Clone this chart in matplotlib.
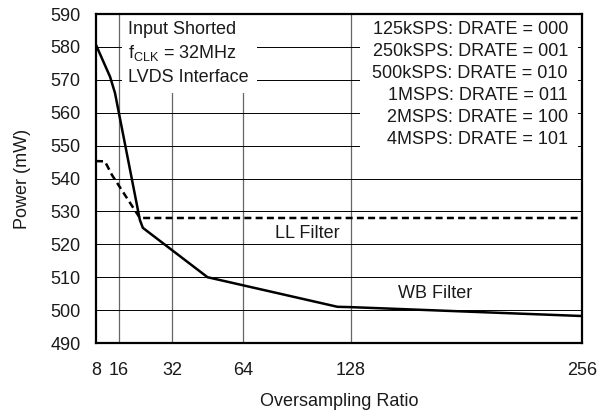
import matplotlib
matplotlib.use("Agg")
import matplotlib.pyplot as plt
from matplotlib.patches import Rectangle
import numpy as np

plt.rcParams['font.family'] = ['Liberation Sans', 'DejaVu Sans']

# oversampling ratio ticks and where they sit along the (non-uniform) axis
osr_ticks = [8, 16, 32, 64, 128, 256]
osr_pos = [0, 23, 76, 147, 255, 486]

power_ticks = list(range(490, 591, 10))

# WB filter curve
wb_osr = [8, 12.9, 14.6, 22.3, 23.2, 48, 120, 128, 256]
wb_power = [580.6, 570.9, 566.0, 527.4, 525.0, 510.0, 501.0, 500.9, 498.2]

# LL filter curve
ll_osr = [8, 11.1, 13.6, 22.3, 256]
ll_power = [545.3, 545.2, 541.0, 528.0, 528.0]

rate_lines = ["125kSPS: DRATE = 000", "250kSPS: DRATE = 001", "500kSPS: DRATE = 010",
              "1MSPS: DRATE = 011", "2MSPS: DRATE = 100", "4MSPS: DRATE = 101"]
cond_lines = ["Input Shorted", r"f$_{\mathregular{CLK}}$ = 32MHz", "LVDS Interface"]

FS = 13
TXT = '#1a1a1a'


def fwd(x):
    return np.interp(x, osr_ticks, osr_pos)


def inv(p):
    return np.interp(p, osr_pos, osr_ticks)


fig = plt.figure(figsize=(6.12, 4.12), dpi=100)
ax = fig.add_axes([96 / 612, 1 - 343 / 412, 486 / 612, 329 / 412])
ax.set_xscale('function', functions=(fwd, inv))
ax.set_xlim(8, 256)
ax.set_ylim(490, 590)
ax.set_xticks(osr_ticks)
ax.set_xticklabels([str(t) for t in osr_ticks])
ax.set_yticks(power_ticks)
ax.xaxis.set_minor_locator(plt.NullLocator())
ax.tick_params(axis='both', length=0, labelsize=FS, labelcolor=TXT)
ax.tick_params(axis='x', pad=14)
ax.tick_params(axis='y', pad=11)

for t in osr_ticks[1:-1]:
    ax.axvline(t, color='#666666', lw=0.9, zorder=1)
for p in power_ticks[1:-1]:
    ax.axhline(p, color='black', lw=0.7, zorder=1)

for s in ax.spines.values():
    s.set_linewidth(1.6)

# white boxes behind the annotations
ax.add_patch(Rectangle((0.053, 0.76), 0.278, 0.24, transform=ax.transAxes,
                       facecolor='white', edgecolor='none', zorder=2))
ax.add_patch(Rectangle((0.543, 0.556), 0.449, 0.444, transform=ax.transAxes,
                       facecolor='white', edgecolor='none', zorder=2))

ax.plot(wb_osr, wb_power, color='black', lw=1.8, zorder=3)
ax.plot(ll_osr, ll_power, color='black', lw=1.8, dashes=(2.8, 1.7), zorder=3)

cond_y = [30, 53, 78]
for txt, yy in zip(cond_lines, cond_y):
    ax.text((128 - 96) / 486, (343 - yy) / 329, txt, transform=ax.transAxes,
            ha='left', va='center', fontsize=FS, color=TXT, zorder=4)

rate_y = [30, 51.7, 73.3, 95, 117, 139]
for txt, yy in zip(rate_lines, rate_y):
    ax.text((568 - 96) / 486, (343 - yy) / 329, txt, transform=ax.transAxes,
            ha='right', va='center', fontsize=FS, color=TXT, zorder=4)

ax.text(102, 523.3, "LL Filter", ha='center', va='center', fontsize=FS, color=TXT, zorder=4)
ax.text(174.5, 504.9, "WB Filter", ha='center', va='center', fontsize=FS, color=TXT, zorder=4)

ax.set_xlabel("Oversampling Ratio", fontsize=FS, color=TXT, labelpad=10)
ax.set_ylabel("Power (mW)", fontsize=FS, color=TXT, labelpad=14)

fig.savefig("out.png", dpi=100)
